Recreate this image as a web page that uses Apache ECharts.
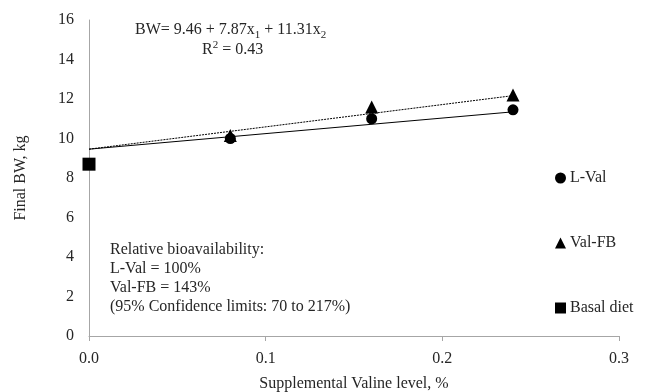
<!DOCTYPE html>
<html><head><meta charset="utf-8">
<script src="https://cdn.jsdelivr.net/npm/echarts@6/dist/echarts.min.js"></script>
<style>html,body{margin:0;padding:0;background:#fff}#c{width:650px;height:392px}</style>
</head><body><div id="c"></div>
<script>
var xLevels = [0.08, 0.16, 0.24];
var lVal = [10.0, 11.0, 11.45];
var valFB = [10.15, 11.6, 12.2];
var basalX = [0];
var basalY = [8.7];
var fitX = [0, 0.24];
var fitLVal = [9.46, 11.35];
var fitValFB = [9.46, 12.17];
var yTicks = [0, 2, 4, 6, 8, 10, 12, 14, 16];
var xTicks = [0.0, 0.1, 0.2, 0.3];

var FONT = '"Liberation Serif", "Times New Roman", serif';
var TXT = '#262626';
var FS = 16;
function pairs(xs, ys){ return xs.map(function(x,i){ return [x, ys[i]]; }); }

var chart = echarts.init(document.getElementById('c'), null, {renderer:'canvas'});
chart.setOption({
  animation: false,
  backgroundColor: '#fff',
  grid: {left: 89, right: 31, top: 20, bottom: 56, containLabel: false, outerBoundsMode: 'none'},
  xAxis: {
    type: 'value', min: 0, max: 0.3, interval: 0.1,
    name: 'Supplemental Valine level, %', nameLocation: 'middle', nameGap: 40,
    nameTextStyle: {fontFamily: FONT, fontSize: FS, color: TXT},
    axisLine: {show: true, lineStyle: {color: '#a6a6a6', width: 1}},
    axisTick: {show: true, length: 5, lineStyle: {color: '#a6a6a6'}},
    axisLabel: {fontFamily: FONT, fontSize: FS, color: TXT, margin: 15,
      formatter: function(v){ return v.toFixed(1); }},
    splitLine: {show: false}
  },
  yAxis: {
    type: 'value', min: 0, max: 16, interval: 2,
    name: 'Final BW, kg', nameLocation: 'middle', nameGap: 60,
    nameTextStyle: {fontFamily: FONT, fontSize: FS, color: TXT},
    axisLine: {show: true, lineStyle: {color: '#a6a6a6', width: 1}},
    axisTick: {show: false},
    axisLabel: {fontFamily: FONT, fontSize: FS, color: TXT, margin: 15},
    splitLine: {show: false}
  },
  legend: {
    orient: 'vertical', left: 555, top: 170, itemGap: 49, padding: 0,
    itemWidth: 11, itemHeight: 11,
    textStyle: {fontFamily: FONT, fontSize: FS, color: TXT, padding: [0,0,0,-1]},
    data: [
      {name: 'L-Val', icon: 'circle'},
      {name: 'Val-FB', icon: 'triangle'},
      {name: 'Basal diet', icon: 'rect'}
    ]
  },
  series: [
    {type: 'line', name: 'fitL', data: pairs(fitX, fitLVal), showSymbol: false, symbol: 'none',
     lineStyle: {color: '#000', width: 1}, silent: true, z: 1},
    {type: 'line', name: 'fitFB', data: pairs(fitX, fitValFB), showSymbol: false, symbol: 'none',
     lineStyle: {color: '#000', width: 1, type: [2, 1]}, silent: true, z: 1},
    {type: 'scatter', name: 'Val-FB', data: pairs(xLevels, valFB), symbol: 'triangle', symbolSize: 13,
     itemStyle: {color: '#000', opacity: 1}, z: 2},
    {type: 'scatter', name: 'L-Val', data: pairs(xLevels, lVal), symbol: 'circle', symbolSize: 11,
     itemStyle: {color: '#000', opacity: 1}, z: 3},
    {type: 'scatter', name: 'Basal diet', data: pairs(basalX, basalY), symbol: 'rect', symbolSize: 13,
     itemStyle: {color: '#000', opacity: 1}, z: 3}
  ],
  graphic: [
    {type: 'text', left: 135, top: 22, style: {
      text: '{n|BW= 9.46 + 7.87x}{s|1}{n| + 11.31x}{s|2}',
      rich: {
        n: {fontFamily: FONT, fontSize: FS, fill: TXT, verticalAlign: 'bottom', lineHeight: 18},
        s: {fontFamily: FONT, fontSize: 11, fill: TXT, verticalAlign: 'bottom', lineHeight: 12, padding: [0,0,-3,0]}
      }}},
    {type: 'text', left: 202, top: 40, style: {
      text: '{n|R}{p|2}{n| = 0.43}',
      rich: {
        n: {fontFamily: FONT, fontSize: FS, fill: TXT, verticalAlign: 'bottom', lineHeight: 18},
        p: {fontFamily: FONT, fontSize: 11, fill: TXT, verticalAlign: 'top', lineHeight: 12, padding: [0,0,6,0]}
      }}},
    {type: 'text', left: 110, top: 240, style: {
      text: 'Relative bioavailability:\nL-Val = 100%\nVal-FB = 143%\n(95% Confidence limits: 70 to 217%)',
      fontFamily: FONT, fontSize: FS, fill: TXT, lineHeight: 19}}
  ]
});
</script></body></html>
